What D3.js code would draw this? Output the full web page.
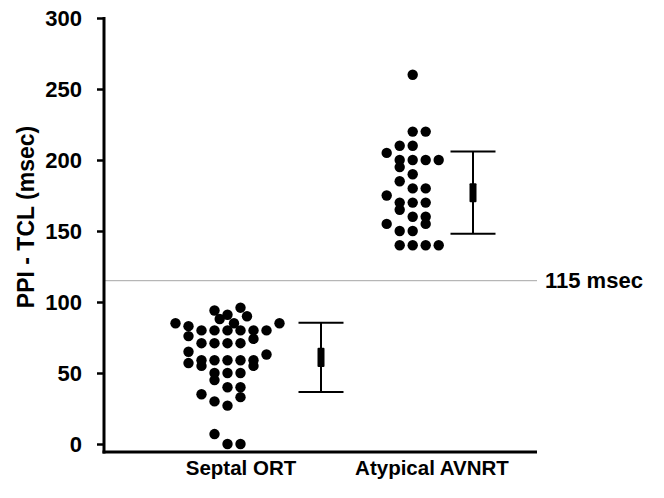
<!DOCTYPE html>
<html>
<head>
<meta charset="utf-8">
<script src="https://cdn.jsdelivr.net/npm/d3@7"></script>
<style>
  body { margin: 0; background: #fff; }
  text { font-family: "Liberation Sans", Arial, sans-serif; font-weight: bold; fill: #000; }
</style>
</head>
<body>
<div id="chart"></div>
<script>
// groups along the x axis
const categories = ["Septal ORT", "Atypical AVNRT"];

// PPI - TCL per patient (msec), with the dot-plot column each dot sits in
const septalValues = [96, 94, 91, 90, 88, 85, 85, 85, 83,
  80, 80, 80, 80, 80, 80, 76, 74, 71, 71, 71, 71, 65, 63,
  59, 59, 59, 59, 59, 57, 55, 55, 50, 50, 50, 45, 40, 40,
  35, 33, 30, 27, 7, 0, 0];
const septalColumns = [1, -1, 0, 1.5, -0.6, 0.5, -4, 4, -3,
  -2, -1, 0, 1, 2, 3, -3, 2, -2, -1, 0, 1, -3, 3,
  -2, -1, 0, 1, 2, -3, -2, 2, -1, 0, 1, -1, 0, 1,
  -2, 1, -1, 0, -1, 0, 1];

const atypicalValues = [260, 220, 220, 210, 210, 205, 200, 200, 200, 200,
  195, 190, 185, 180, 180, 175, 170, 170, 170, 165,
  160, 160, 155, 155, 150, 150, 140, 140, 140, 140];
const atypicalColumns = [0, 0, 1, -1, 0, -2, -1, 0, 1, 2,
  -1, 0, -1, 0, 1, -2, -1, 0, 1, -1,
  0, 1, 1, -2, -1, 0, -1, 0, 1, 2];

// summary bars: mean, SD whiskers, inner box half-height
const groupMeans = [61, 177];
const groupSD = [24.3, 29];
const groupCI = [6.7, 6.7];

const yTicks = [0, 50, 100, 150, 200, 250, 300];
const cutoffValue = 115;
const cutoffLabel = "115 msec";
const yTitle = "PPI - TCL (msec)";

const width = 664;
const height = 498;
const axisX = 104;
const axisBottom = 452;
const axisRight = 537;

const svg = d3.select("#chart")
  .append("svg")
  .attr("width", width)
  .attr("height", height)
  .style("background", "#fff");

const y = d3.scaleLinear().domain([0, 300]).range([444, 18]);
const x = d3.scalePoint().domain(categories).range([241, 432]);
const col = d3.scaleLinear().domain([0, 1]).range([0, 13]);

// where the dots and the bars sit relative to each label
const dotShift = [-13.5, -19.3];
const barShift = [80, 41];

// reference line
svg.append("line")
  .attr("x1", axisX).attr("x2", axisRight)
  .attr("y1", y(cutoffValue)).attr("y2", y(cutoffValue))
  .attr("stroke", "#a6a6a6")
  .attr("stroke-width", 1);

svg.append("text")
  .attr("x", axisRight + 8)
  .attr("y", y(cutoffValue))
  .attr("dy", "0.35em")
  .style("font-size", "22px")
  .text(cutoffLabel);

// y axis
const yAxis = svg.append("g")
  .attr("transform", `translate(${axisX},0)`)
  .call(d3.axisLeft(y).tickValues(yTicks).tickSize(7).tickPadding(15));
yAxis.select(".domain").remove();
yAxis.selectAll(".tick line").attr("stroke", "#000").attr("stroke-width", 2.5);
yAxis.selectAll(".tick text")
  .style("font-size", "22px")
  .style("font-family", "'Liberation Sans', Arial, sans-serif")
  .style("font-weight", "bold");

svg.append("line")
  .attr("x1", axisX).attr("x2", axisX)
  .attr("y1", y(300) - 1).attr("y2", axisBottom + 1.5)
  .attr("stroke", "#000").attr("stroke-width", 3);

// x axis line
svg.append("line")
  .attr("x1", axisX - 1.5).attr("x2", axisRight)
  .attr("y1", axisBottom).attr("y2", axisBottom)
  .attr("stroke", "#000").attr("stroke-width", 3);

svg.selectAll(".cat")
  .data(categories)
  .join("text")
  .attr("class", "cat")
  .attr("x", (d) => x(d))
  .attr("y", 475)
  .attr("text-anchor", "middle")
  .style("font-size", "20.5px")
  .text((d) => d);

svg.append("text")
  .attr("transform", `translate(34,217) rotate(-90)`)
  .attr("text-anchor", "middle")
  .style("font-size", "23px")
  .text(yTitle);

// dots
const groups = [
  { values: septalValues, columns: septalColumns },
  { values: atypicalValues, columns: atypicalColumns },
];

groups.forEach((g, i) => {
  const cx0 = x(categories[i]) + dotShift[i];
  svg.append("g")
    .selectAll("circle")
    .data(g.values)
    .join("circle")
    .attr("cx", (d, j) => cx0 + col(g.columns[j]))
    .attr("cy", (d) => y(d))
    .attr("r", 5.2)
    .attr("fill", "#000");
});

// mean / SD bars
const bars = svg.append("g")
  .selectAll("g")
  .data(categories)
  .join("g")
  .attr("transform", (d, i) => `translate(${x(d) + barShift[i]},0)`);

bars.append("line")
  .attr("y1", (d, i) => y(groupMeans[i] + groupSD[i]))
  .attr("y2", (d, i) => y(groupMeans[i] - groupSD[i]))
  .attr("stroke", "#000").attr("stroke-width", 2);

bars.selectAll(".cap")
  .data((d, i) => [groupMeans[i] + groupSD[i], groupMeans[i] - groupSD[i]])
  .join("line")
  .attr("class", "cap")
  .attr("x1", -22.5).attr("x2", 22.5)
  .attr("y1", (d) => y(d)).attr("y2", (d) => y(d))
  .attr("stroke", "#000").attr("stroke-width", 2);

bars.append("rect")
  .attr("x", -3.5)
  .attr("width", 7)
  .attr("y", (d, i) => y(groupMeans[i] + groupCI[i]))
  .attr("height", (d, i) => y(groupMeans[i] - groupCI[i]) - y(groupMeans[i] + groupCI[i]))
  .attr("rx", 1)
  .attr("fill", "#000");
</script>
</body>
</html>
